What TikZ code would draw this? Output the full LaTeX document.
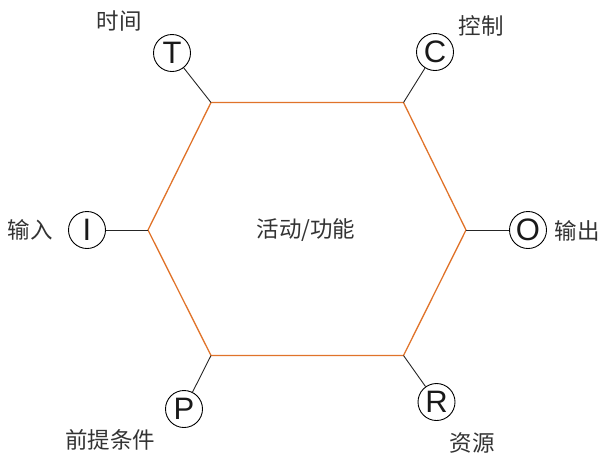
\documentclass[tikz,border=0pt]{standalone}
\usepackage{fontspec}
\setmainfont{Liberation Sans}
\newfontfamily\cjk{Noto Sans CJK SC}
\definecolor{hexorange}{HTML}{E0732A}
\definecolor{txtgray}{HTML}{333333}
\begin{document}
\begin{tikzpicture}[x=1pt,y=-1pt,
  letter/.style={circle,draw=black,line width=0.9pt,minimum size=37pt,inner sep=0pt,font=\fontsize{31}{31}\selectfont,text=black!90},
  lbl/.style={font=\cjk\fontsize{22.5}{22.5}\selectfont,text=txtgray,inner sep=0pt},
  conn/.style={draw=black!85,line width=0.9pt},
  hexline/.style={draw=hexorange,line width=1.3pt,line join=miter}]
\useasboundingbox (0,0) rectangle (604,456);
\coordinate (vl) at (148,230);
\coordinate (vtl) at (211,102.5);
\coordinate (vtr) at (403.5,102.5);
\coordinate (vr) at (466,230);
\coordinate (vbr) at (403.5,355.5);
\coordinate (vbl) at (211,355.5);
\draw[hexline] (vl) -- (vtl) -- (vtr) -- (vr) -- (vbr) -- (vbl) -- cycle;
\node[lbl] (center) at (306,230) {活动/功能};
\node[letter] (T) at (172,53) {T};
\node[letter] (C) at (435,52) {C};
\node[letter] (I) at (87,230) {I};
\node[letter] (O) at (528,230) {O};
\node[letter] (P) at (184,409) {P};
\node[letter] (R) at (436.5,402) {R};
\draw[conn] (T) -- (vtl);
\draw[conn] (C) -- (vtr);
\draw[conn] (I) -- (vl);
\draw[conn] (O) -- (vr);
\draw[conn] (P) -- (vbl);
\draw[conn] (R) -- (vbr);
\node[lbl] (lt) at (119,21) {时间};
\node[lbl] (lc) at (481,26) {控制};
\node[lbl] (li) at (30,230) {输入};
\node[lbl] (lo) at (577,231) {输出};
\node[lbl] (lp) at (110,440) {前提条件};
\node[lbl] (lr) at (472,443) {资源};
\end{tikzpicture}
\end{document}
